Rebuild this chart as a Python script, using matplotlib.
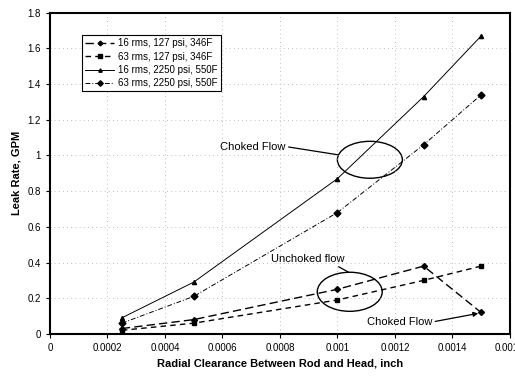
import matplotlib
matplotlib.use("Agg")
import matplotlib.pyplot as plt
from matplotlib.patches import Ellipse

plt.rcParams['font.family'] = ['Liberation Sans', 'DejaVu Sans']

clearance = [0.00025, 0.0005, 0.001, 0.0013, 0.0015]
s16_127 = [0.03, 0.08, 0.25, 0.38, 0.12]
s63_127 = [0.02, 0.06, 0.19, 0.30, 0.38]
s16_2250 = [0.09, 0.29, 0.87, 1.33, 1.67]
s63_2250 = [0.06, 0.21, 0.68, 1.06, 1.34]

labels = ["16 rms, 127 psi, 346F", "63 rms, 127 psi, 346F",
          "16 rms, 2250 psi, 550F", "63 rms, 2250 psi, 550F"]

xticks = [0, 0.0002, 0.0004, 0.0006, 0.0008, 0.001, 0.0012, 0.0014, 0.0016]
xticklabels = ["0", "0.0002", "0.0004", "0.0006", "0.0008", "0.001", "0.0012", "0.0014", "0.0016"]
yticks = [0, 0.2, 0.4, 0.6, 0.8, 1.0, 1.2, 1.4, 1.6, 1.8]
yticklabels = ["0", "0.2", "0.4", "0.6", "0.8", "1", "1.2", "1.4", "1.6", "1.8"]

fig = plt.figure(figsize=(5.15, 3.76), dpi=100)
ax = fig.add_axes([0.097, 0.112, 0.893, 0.854])

ax.plot(clearance, s16_127, color='black', linestyle=(0, (6, 3)), linewidth=1.0,
        marker='D', markersize=3, label=labels[0])
ax.plot(clearance, s63_127, color='black', linestyle=(0, (4, 3)), linewidth=1.0,
        marker='s', markersize=3.5, label=labels[1])
ax.plot(clearance, s16_2250, color='black', linestyle='-', linewidth=0.7,
        marker='^', markersize=3, label=labels[2])
ax.plot(clearance, s63_2250, color='black', linestyle=(0, (5, 2, 1, 2)), linewidth=0.7,
        marker='D', markersize=3.5, label=labels[3])

ax.set_xlim(0, 0.0016)
ax.set_ylim(0, 1.8)
ax.set_xticks(xticks)
ax.set_xticklabels(xticklabels, fontsize=7)
ax.set_yticks(yticks)
ax.set_yticklabels(yticklabels, fontsize=7)
ax.tick_params(direction='out', length=3, width=0.8)
ax.grid(True, linestyle=(0, (1, 4)), color='#aaaaaa', linewidth=0.6)
for sp in ax.spines.values():
    sp.set_linewidth(1.5)

ax.set_xlabel("Radial Clearance Between Rod and Head, inch", fontsize=8, fontweight='bold')
ax.set_ylabel("Leak Rate, GPM", fontsize=8, fontweight='bold')

leg = ax.legend(loc='upper left', bbox_to_anchor=(0.06, 0.945), fontsize=7,
                frameon=True, fancybox=False, edgecolor='black', framealpha=1,
                handlelength=3, borderpad=0.3, labelspacing=0.35, handletextpad=0.4,
                markerscale=0.8)
leg.get_frame().set_linewidth(0.8)

# Ellipses
ax.add_patch(Ellipse((0.001113, 0.976), 0.000226, 0.207, fill=False, edgecolor='black', linewidth=1.0))
ax.add_patch(Ellipse((0.001043, 0.236), 0.000226, 0.219, fill=False, edgecolor='black', linewidth=1.0))

ax.annotate("Choked Flow", xy=(0.001002, 1.004), xytext=(0.000707, 1.05),
            fontsize=8, ha='center', va='center',
            arrowprops=dict(arrowstyle='-', color='black', linewidth=0.9, shrinkA=0, shrinkB=0,
                            relpos=(1.0, 0.5)))
ax.annotate("Unchoked flow", xy=(0.00104, 0.345), xytext=(0.000897, 0.42),
            fontsize=8, ha='center', va='center',
            arrowprops=dict(arrowstyle='-', color='black', linewidth=0.9, shrinkA=0, shrinkB=0,
                            relpos=(0.85, 0.0)))
ax.annotate("Choked Flow", xy=(0.00149, 0.115), xytext=(0.001217, 0.067),
            fontsize=8, ha='center', va='center',
            arrowprops=dict(arrowstyle='-|>', color='black', linewidth=0.9, shrinkA=0, shrinkB=0,
                            mutation_scale=7, relpos=(1.0, 0.5)))

fig.savefig("out.png", dpi=100)
